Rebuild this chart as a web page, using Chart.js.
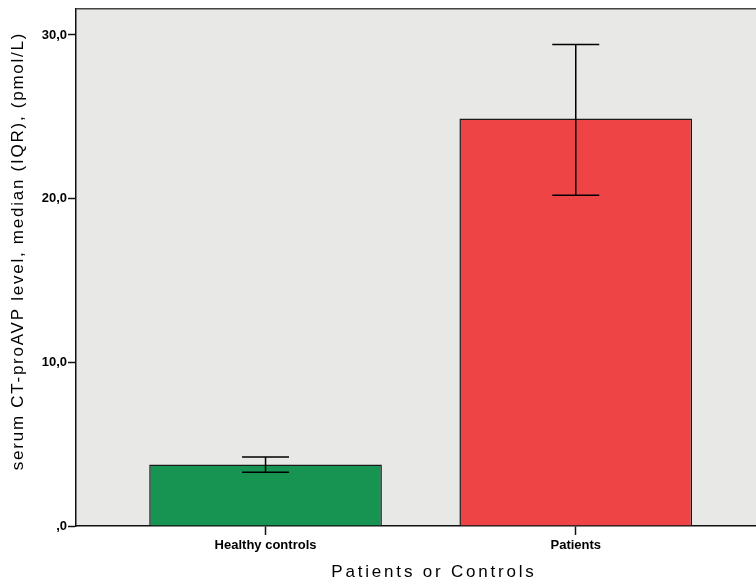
<!DOCTYPE html>
<html>
<head>
<meta charset="utf-8">
<script src="https://cdn.jsdelivr.net/npm/chart.js@4.4.1/dist/chart.umd.min.js"></script>
<style>
html,body{margin:0;padding:0;background:#fff;overflow:hidden;}
#wrap{position:relative;width:756px;height:585px;}
</style>
</head>
<body>
<div id="wrap"><canvas id="c" width="756" height="585"></canvas></div>
<script>
// ---- data ----
const categories = ["Healthy controls", "Patients"];
const medians = [3.76, 24.9];
const iqrLow = [3.29, 20.21];
const iqrHigh = [4.22, 29.42];
const yTicks = [0, 10, 20, 30];
const xTitle = "Patients or Controls";
const yTitle = "serum CT-proAVP level, median (IQR), (pmol/L)";
const barColors = ["#179452", "#ef4446"];

const FONT = "'Liberation Sans', Arial, sans-serif";

const bgPlugin = {
  id: 'bg',
  beforeDraw(chart) {
    const {ctx, chartArea: a} = chart;
    ctx.save();
    ctx.fillStyle = '#e8e8e6';
    ctx.fillRect(a.left, a.top, a.right - a.left, a.bottom - a.top);
    ctx.restore();
  },
  afterDraw(chart) {
    const {ctx, chartArea: a} = chart;
    ctx.save();
    ctx.strokeStyle = '#444';
    ctx.lineWidth = 1.5;
    ctx.beginPath();
    ctx.moveTo(a.left, a.top);
    ctx.lineTo(a.right + 2, a.top);
    ctx.stroke();
    // axis titles
    ctx.fillStyle = '#000';
    ctx.font = "17px " + FONT;
    ctx.textAlign = 'center';
    ctx.textBaseline = 'middle';
    ctx.letterSpacing = '2.8px';
    ctx.fillText(xTitle, 434, 572);
    ctx.translate(18, 251);
    ctx.rotate(-Math.PI / 2);
    ctx.letterSpacing = '1.75px';
    ctx.fillText(yTitle, 0, 0);
    ctx.restore();
  }
};

const errPlugin = {
  id: 'err',
  afterDatasetsDraw(chart) {
    const {ctx, scales: {x, y}} = chart;
    ctx.save();
    ctx.strokeStyle = '#000';
    ctx.lineWidth = 1.5;
    categories.forEach((c, i) => {
      const px = x.getPixelForValue(i);
      const lo = y.getPixelForValue(iqrLow[i]);
      const hi = y.getPixelForValue(iqrHigh[i]);
      ctx.beginPath();
      ctx.moveTo(px, lo); ctx.lineTo(px, hi);
      ctx.moveTo(px - 23.5, lo); ctx.lineTo(px + 23.5, lo);
      ctx.moveTo(px - 23.5, hi); ctx.lineTo(px + 23.5, hi);
      ctx.stroke();
    });
    ctx.restore();
  }
};

new Chart(document.getElementById('c'), {
  type: 'bar',
  data: {
    datasets: [{
      data: categories.map((c, i) => ({x: i, y: medians[i]})),
      backgroundColor: barColors,
      borderColor: '#1a1a1a',
      borderWidth: 1.5,
      barPercentage: 0.75,
      categoryPercentage: 1.0
    }]
  },
  options: {
    responsive: false,
    animation: false,
    devicePixelRatio: 1,
    layout: {padding: {top: 7, right: 0, left: 0, bottom: 0}},
    plugins: {legend: {display: false}, tooltip: {enabled: false}},
    scales: {
      x: {
        type: 'linear',
        offset: false,
        min: -0.611,
        max: 1.581,
        afterFit(s) { s.height = 59; },
        afterBuildTicks(s) { s.ticks = categories.map((c, i) => ({value: i})); },
        ticks: {
          callback: (v) => categories[v],
          color: '#000',
          font: {family: FONT, size: 13, weight: 'bold'},
          padding: 3,
          maxRotation: 0,
          autoSkip: false
        },
        grid: {offset: false, drawOnChartArea: false, tickLength: 9, tickColor: '#111', tickWidth: 1.5},
        border: {color: '#111', width: 1.5}
      },
      y: {
        min: 0,
        max: 31.6,
        afterFit(s) { s.width = 76; },
        afterBuildTicks(s) { s.ticks = yTicks.map(v => ({value: v})); },
        ticks: {
          callback: (v) => (v === 0 ? '' : String(v)) + ',0',
          color: '#000',
          font: {family: FONT, size: 13, weight: 'bold'},
          padding: 1
        },
        grid: {drawOnChartArea: false, tickLength: 8, tickColor: '#111', tickWidth: 1.5},
        border: {color: '#111', width: 1.5}
      }
    }
  },
  plugins: [bgPlugin, errPlugin]
});
</script>
</body>
</html>
